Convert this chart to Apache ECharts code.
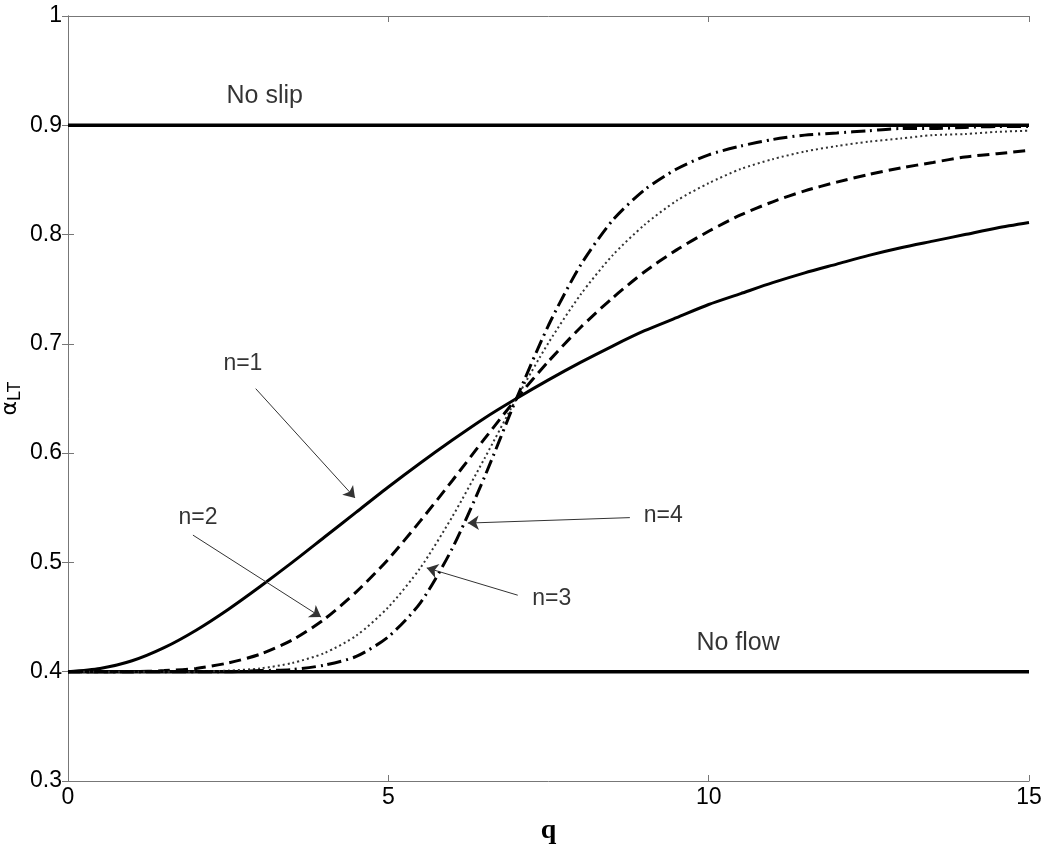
<!DOCTYPE html>
<html lang="en">
<head>
    <meta charset="UTF-8">
    <title>alpha_LT vs q</title>
    <script src="https://cdn.jsdelivr.net/npm/echarts@6/dist/echarts.min.js"></script>
    <style>
        html, body { margin: 0; padding: 0; background: #fff; }
        #main { width: 1046px; height: 847px; }
    </style>
</head>
<body>
    <div id="main"></div>
    <script>
        // q values (x axis)
        var qVals = [0, 0.5, 1, 1.5, 2, 2.5, 3, 3.5, 4, 4.5, 5, 5.5, 6, 6.5, 7, 7.5,
            8, 8.5, 9, 9.5, 10, 10.5, 11, 11.5, 12, 12.5, 13, 13.5, 14, 14.5, 15];
        // curves
        var n1 = [0.400, 0.403, 0.410, 0.422, 0.438, 0.457, 0.478, 0.500, 0.523, 0.546, 0.569,
            0.591, 0.612, 0.632, 0.650, 0.667, 0.683, 0.698, 0.712, 0.724, 0.736,
            0.746, 0.756, 0.765, 0.773, 0.781, 0.788, 0.794, 0.800, 0.806, 0.811];
        var n2 = [0.400, 0.400, 0.400, 0.401, 0.403, 0.408, 0.416, 0.429, 0.448, 0.473, 0.503,
            0.538, 0.575, 0.613, 0.650, 0.684, 0.715, 0.742, 0.766, 0.786, 0.803,
            0.818, 0.830, 0.840, 0.848, 0.855, 0.861, 0.866, 0.871, 0.874, 0.877];
        var n3 = [0.400, 0.400, 0.400, 0.400, 0.400, 0.401, 0.403, 0.408, 0.417, 0.433, 0.459,
            0.495, 0.542, 0.595, 0.650, 0.701, 0.745, 0.781, 0.809, 0.831, 0.847,
            0.860, 0.869, 0.876, 0.881, 0.885, 0.888, 0.891, 0.892, 0.894, 0.895];
        var n4 = [0.400, 0.400, 0.400, 0.400, 0.400, 0.400, 0.401, 0.402, 0.406, 0.414, 0.432,
            0.463, 0.513, 0.578, 0.650, 0.717, 0.772, 0.813, 0.841, 0.860, 0.873,
            0.881, 0.887, 0.891, 0.893, 0.895, 0.897, 0.897, 0.898, 0.899, 0.899];
        // limit lines
        var noSlip = 0.9;
        var noFlow = 0.4;
        // text notes [q, alpha, text]
        var notes = [
            [3.07, 0.927, 'No slip'],
            [10.46, 0.426, 'No flow'],
            [2.73, 0.682, 'n=1'],
            [2.03, 0.541, 'n=2'],
            [7.55, 0.467, 'n=3'],
            [9.29, 0.543, 'n=4']
        ];
        // arrows [from, to]
        var arrows = [
            [[2.93, 0.659], [4.48, 0.559]],
            [[1.95, 0.525], [3.95, 0.450]],
            [[7.02, 0.470], [5.60, 0.495]],
            [[8.77, 0.541], [6.24, 0.536]]
        ];

        function pairs(ys) {
            var out = [];
            for (var i = 0; i < qVals.length; i++) {
                out.push([qVals[i], ys[i]]);
            }
            return out;
        }

        function curve(name, ys, type, width, color) {
            return {
                name: name,
                type: 'line',
                data: pairs(ys),
                smooth: 0.25,
                showSymbol: false,
                symbol: 'none',
                z: 3,
                lineStyle: { color: color || '#000', width: width, type: type }
            };
        }

        var myChart = echarts.init(document.getElementById('main'));

        var axisText = { color: '#000', fontSize: 23, fontFamily: 'Liberation Sans, Arial, sans-serif' };

        var option = {
            animation: false,
            backgroundColor: '#fff',
            grid: { left: 68, right: 17, top: 16, bottom: 66, outerBoundsMode: 'none', containLabel: false },
            xAxis: [
                {
                    type: 'value', min: 0, max: 15, interval: 5,
                    name: 'q', nameLocation: 'middle', nameGap: 36,
                    nameTextStyle: { fontFamily: 'Liberation Serif, Times New Roman, serif', fontWeight: 'bold', fontSize: 28, color: '#000' },
                    axisLine: { lineStyle: { color: '#777', width: 1 } },
                    axisTick: { inside: true, length: 6, lineStyle: { color: '#777' } },
                    axisLabel: Object.assign({ margin: 5 }, axisText),
                    splitLine: { show: false }
                },
                {
                    type: 'value', min: 0, max: 15, interval: 5, position: 'top',
                    axisLine: { show: true, lineStyle: { color: '#777', width: 1 } },
                    axisTick: { inside: true, length: 6, lineStyle: { color: '#777' } },
                    axisLabel: { show: false },
                    splitLine: { show: false }
                }
            ],
            yAxis: [
                {
                    type: 'value', min: 0.3, max: 1, interval: 0.1,
                    name: '{a|α}{s|LT}', nameLocation: 'middle', nameGap: 44, nameRotate: 90,
                    nameMoveOverlap: false,
                    nameTextStyle: {
                        color: '#000',
                        rich: {
                            a: { fontSize: 22, fontFamily: 'DejaVu Sans, sans-serif', color: '#000' },
                            s: { fontSize: 18, fontFamily: 'Liberation Sans, Arial, sans-serif', color: '#000', padding: [10, 0, 0, 0] }
                        }
                    },
                    axisLine: { lineStyle: { color: '#777', width: 1 } },
                    axisTick: { inside: true, length: 6, lineStyle: { color: '#777' } },
                    axisLabel: Object.assign({
                        margin: 6,
                        formatter: function (v) { return String(Math.round(v * 10) / 10); }
                    }, axisText),
                    splitLine: { show: false }
                },
                {
                    type: 'value', min: 0.3, max: 1, interval: 0.1, position: 'right',
                    axisLine: { show: true, lineStyle: { color: '#777', width: 1 } },
                    axisTick: { inside: true, length: 6, lineStyle: { color: '#777' } },
                    axisLabel: { show: false },
                    splitLine: { show: false }
                }
            ],
            series: [
                {
                    name: 'No slip', type: 'line', symbol: 'none', z: 2,
                    data: [[0, noSlip], [15, noSlip]],
                    lineStyle: { color: '#000', width: 3.5 }
                },
                {
                    name: 'No flow', type: 'line', symbol: 'none', z: 2,
                    data: [[0, noFlow], [15, noFlow]],
                    lineStyle: { color: '#000', width: 3.5 }
                },
                curve('n=1', n1, 'solid', 3),
                curve('n=2', n2, [12, 6], 3),
                curve('n=3', n3, [2, 3], 2, '#333'),
                curve('n=4', n4, [14, 5, 2, 5], 3),
                {
                    name: 'notes', type: 'scatter', symbolSize: 0, z: 5,
                    data: notes.map(function (d) {
                        var item = { value: d };
                        if (d[2].indexOf('No') === 0) {
                            item.label = { fontSize: 25 };
                        }
                        return item;
                    }),
                    label: {
                        show: true, position: 'inside',
                        formatter: function (p) { return p.value[2]; },
                        color: '#000',
                        fontFamily: 'Liberation Sans, Arial, sans-serif',
                        fontSize: 23
                    },
                    markLine: {
                        silent: true,
                        symbol: ['none', 'arrow'],
                        symbolSize: 11,
                        label: { show: false },
                        lineStyle: { color: '#333', width: 1, type: 'solid' },
                        data: arrows.map(function (a) {
                            return [{ coord: a[0] }, { coord: a[1] }];
                        })
                    }
                }
            ]
        };

        myChart.setOption(option);
    </script>
</body>
</html>
